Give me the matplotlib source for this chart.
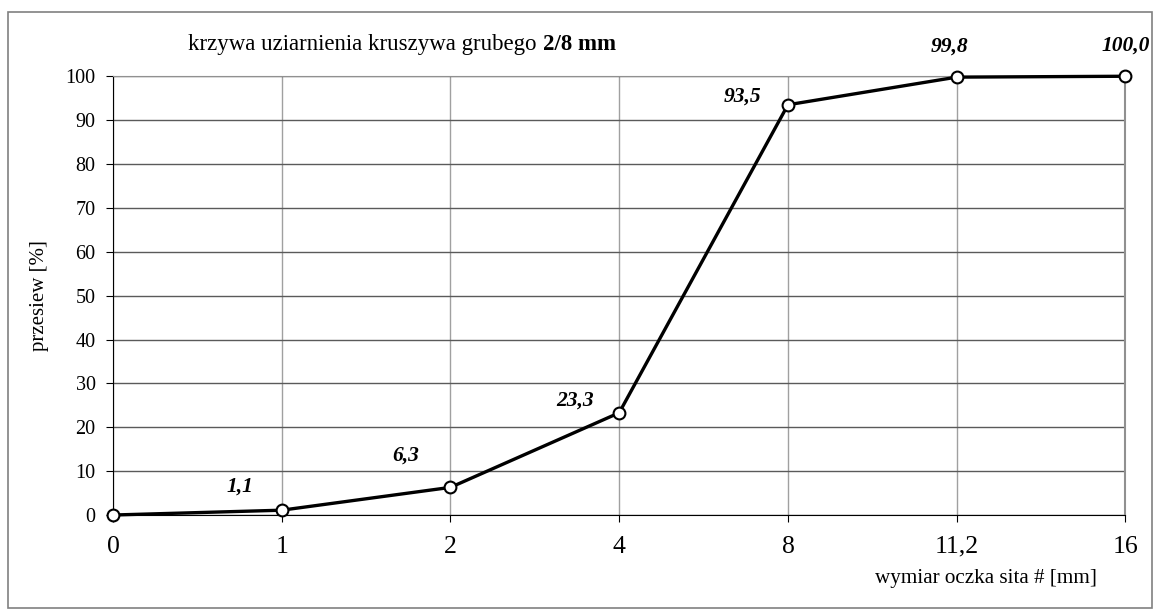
import matplotlib.pyplot as plt
from matplotlib.patches import Rectangle

plt.rcParams['font.family'] = ['Liberation Serif', 'DejaVu Serif']

# sieve sizes (categorical) and passing values
sita = ['0', '1', '2', '4', '8', '11,2', '16']
przesiew = [0.0, 1.1, 6.3, 23.3, 93.5, 99.8, 100.0]
etykiety = ['', '1,1', '6,3', '23,3', '93,5', '99,8', '100,0']
# label offsets in points (dx, dy)
przes = [(0, 0), (-30, 17), (-32, 23), (-32, 9), (-33, 6), (-5, 22), (0, 22)]

fig = plt.figure(figsize=(11.55, 6.1), dpi=100)
ax = fig.add_axes([0.0978, 0.1557, 0.8766, 0.7193])

# outer frame
fig.patches.append(Rectangle((0.007, 0.004), 0.99, 0.976, transform=fig.transFigure,
                             fill=False, edgecolor='#808080', linewidth=1.2))

x = list(range(len(sita)))
ax.plot(x, przesiew, color='black', linewidth=2.4, marker='o', markersize=8.5,
        markerfacecolor='white', markeredgecolor='black', markeredgewidth=1.5,
        zorder=5, clip_on=False)

for xi, yi, lab, (dx, dy) in zip(x, przesiew, etykiety, przes):
    if lab:
        ax.annotate(lab, (xi, yi), xytext=(dx, dy), textcoords='offset points',
                    ha='center', va='center', fontsize=15.5, fontweight='bold',
                    fontstyle='italic')

ax.set_xlim(0, 6)
ax.set_ylim(0, 100)
ax.set_xticks(x)
ax.set_xticklabels(sita, fontsize=18.5)
ax.set_yticks(range(0, 101, 10))
ax.tick_params(axis='y', labelsize=14.5, length=5, pad=7.5)
ax.tick_params(axis='x', length=5, pad=10)

ax.yaxis.grid(True, color='#5a5a5a', linewidth=1)
ax.xaxis.grid(True, color='#a0a0a0', linewidth=1)
ax.set_axisbelow(True)

ax.spines['left'].set_color('black')
ax.spines['bottom'].set_color('black')
ax.spines['top'].set_color('#909090')
ax.spines['right'].set_color('#909090')
ax.spines['right'].set_linewidth(1.5)

ax.set_ylabel('przesiew [%]', fontsize=15, labelpad=12)
fig.text(0.854, 0.052, 'wymiar oczka sita # [mm]', fontsize=15.2, ha='center', va='center')

t1 = fig.text(0.163, 0.927, 'krzywa uziarnienia kruszywa grubego ', fontsize=16.5,
              ha='left', va='center')
ax.annotate('2/8 mm', xy=(1, 0), xycoords=t1, fontsize=16.5, fontweight='bold',
            ha='left', va='bottom')

plt.savefig('out.png', dpi=100)
